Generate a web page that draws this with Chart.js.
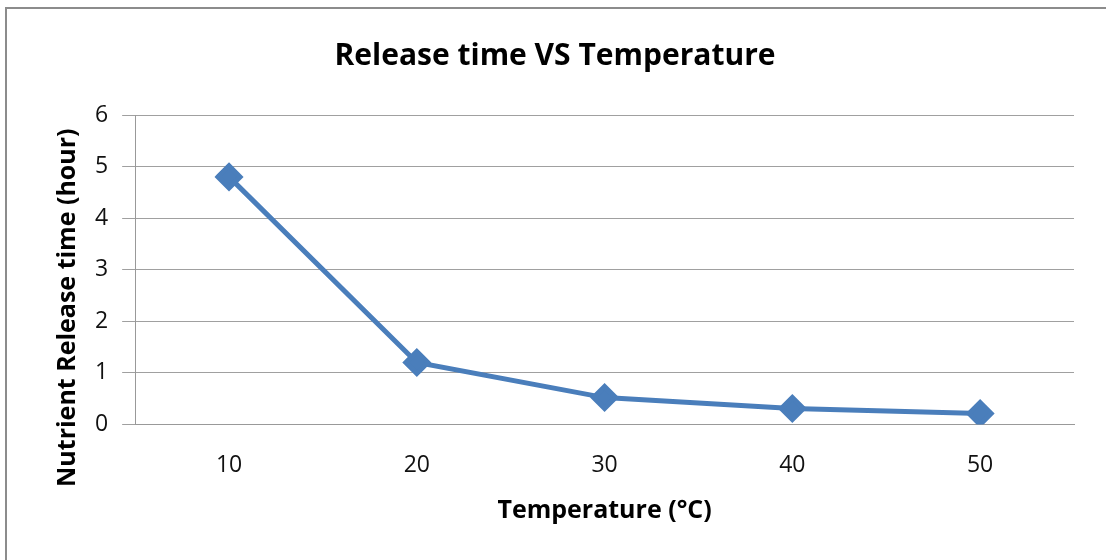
<!DOCTYPE html>
<html>
<head>
<meta charset="utf-8">
<script src="https://cdn.jsdelivr.net/npm/chart.js@4.4.1/dist/chart.umd.min.js"></script>
<style>
  html, body { margin: 0; padding: 0; background: #fff; }
  #frame {
    position: absolute; left: 5px; top: 7px; width: 1110px; height: 560px;
    border: 2px solid #8c8c8c; box-sizing: border-box; background: #fff;
  }
  #wrap { position: absolute; left: 0; top: 0; width: 1101px; height: 553px; }
</style>
</head>
<body>
<div id="frame">
  <div id="wrap"><canvas id="chart"></canvas></div>
</div>
<script>
const temperatures = ["10", "20", "30", "40", "50"];
const releaseTimes = [4.8, 1.2, 0.52, 0.31, 0.21];
const yTicks = [0, 1, 2, 3, 4, 5, 6];
const yTitle = 'Nutrient Release time (hour)';

const fontFamily = "'Open Sans', 'DejaVu Sans', sans-serif";

// y axis title drawn a little below the plot centre, as in the original
const yTitlePlugin = {
  id: 'yTitle',
  afterDraw(chart) {
    const ctx = chart.ctx;
    const area = chart.chartArea;
    ctx.save();
    ctx.font = 'bold 25px ' + fontFamily;
    ctx.fillStyle = '#000';
    ctx.textAlign = 'center';
    ctx.textBaseline = 'middle';
    ctx.translate(61, (area.top + area.bottom) / 2 + 38);
    ctx.rotate(-Math.PI / 2);
    ctx.fillText(yTitle, 0, 0);
    ctx.restore();
  }
};

new Chart(document.getElementById('chart'), {
  type: 'line',
  data: {
    labels: temperatures,
    datasets: [{
      label: 'Release time',
      data: releaseTimes,
      borderColor: '#4a7ebb',
      backgroundColor: '#4a7ebb',
      borderWidth: 5,
      pointStyle: 'rectRot',
      pointRadius: 11,
      pointHoverRadius: 11,
      tension: 0,
      fill: false
    }]
  },
  options: {
    responsive: true,
    maintainAspectRatio: false,
    animation: false,
    layout: { padding: { left: 29, right: 34, top: 10, bottom: 32 } },
    plugins: {
      legend: { display: false },
      tooltip: { enabled: false },
      title: {
        display: true,
        text: 'Release time VS Temperature',
        color: '#000',
        font: { family: fontFamily, size: 30, weight: 'bold' },
        padding: { top: 19, bottom: 41 }
      }
    },
    scales: {
      x: {
        offset: true,
        grid: { display: false, drawTicks: false },
        border: { display: true, color: '#999', width: 1 },
        ticks: {
          color: '#111',
          padding: 27,
          font: { family: fontFamily, size: 23 }
        },
        title: {
          display: true,
          text: 'Temperature (°C)',
          color: '#000',
          font: { family: fontFamily, size: 25, weight: 'bold' },
          padding: { top: -10, bottom: 4 }
        }
      },
      y: {
        min: 0,
        max: 6,
        afterBuildTicks: axis => { axis.ticks = yTicks.map(v => ({ value: v })); },
        afterFit: axis => { axis.width += 45; },
        grid: { color: '#a0a0a0', lineWidth: 1, tickLength: 13 },
        border: { display: true, color: '#999', width: 1 },
        ticks: {
          color: '#111',
          padding: 14,
          font: { family: fontFamily, size: 23 }
        }
      }
    }
  },
  plugins: [yTitlePlugin]
});
</script>
</body>
</html>
